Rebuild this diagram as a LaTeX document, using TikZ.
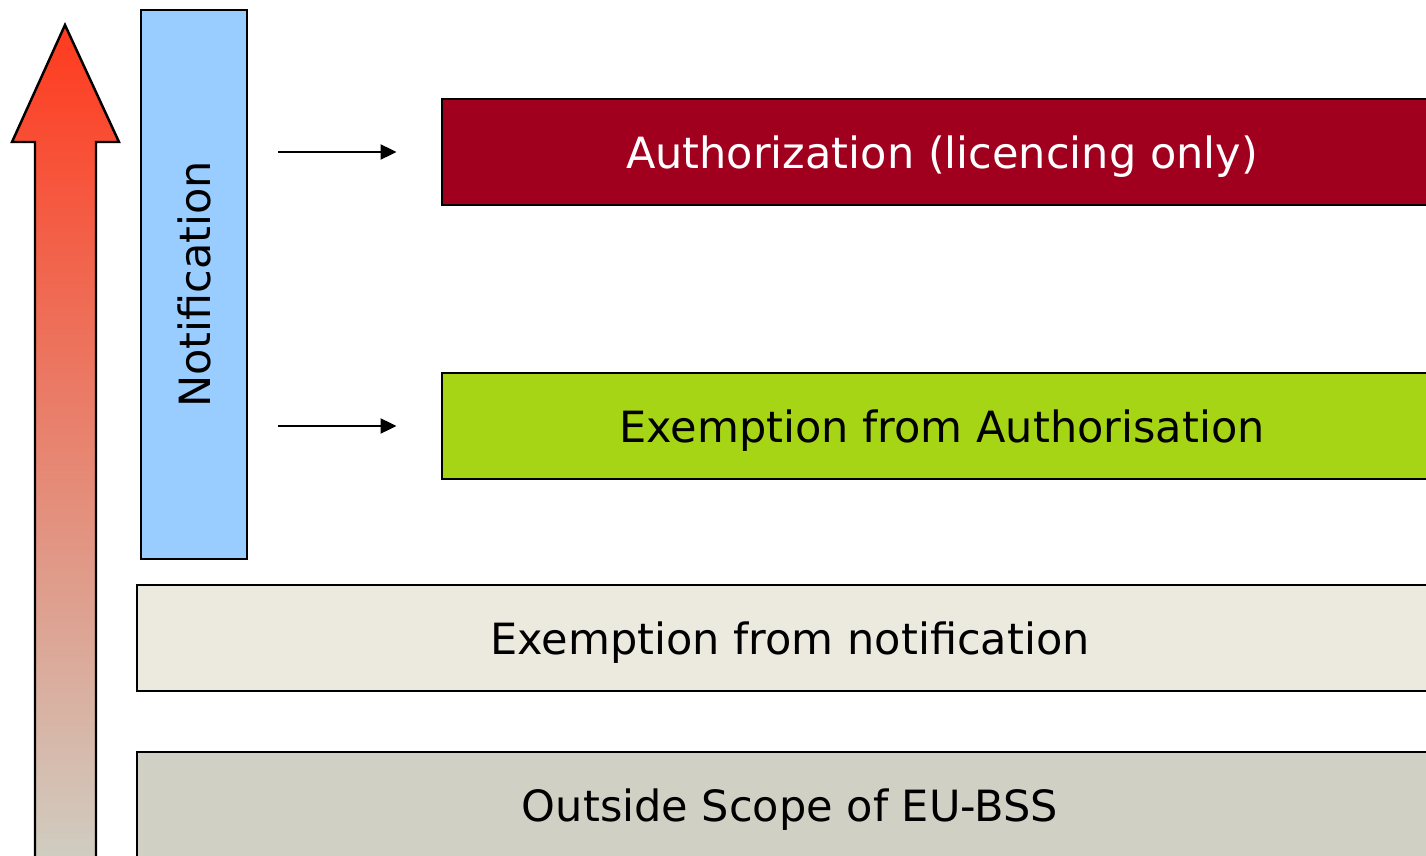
\documentclass[tikz,border=0pt]{standalone}
\usepackage{fontspec}
\setmainfont{DejaVu Sans}
\usetikzlibrary{arrows.meta}
\definecolor{authred}{HTML}{A0001E}
\definecolor{exgreen}{HTML}{A6D516}
\definecolor{notifblue}{HTML}{99CCFF}
\definecolor{exnotif}{HTML}{ECEADF}
\definecolor{outside}{HTML}{D0D0C4}
\definecolor{arrowtop}{RGB}{255,58,30}
\definecolor{arrowmid}{RGB}{232,156,141}
\definecolor{arrowbot}{RGB}{207,207,195}
\tikzset{
  level/.style={draw=black, line width=1.2pt, minimum height=2.12cm,
    inner sep=0pt, text depth=0pt, font=\fontsize{24.5}{28}\selectfont},
  upper/.style={level, minimum width=20.02cm},
  lower/.style={level, minimum width=26.12cm},
  conn/.style={line width=1.2pt, -{Triangle[length=0.32cm,width=0.3cm]}},
}
\begin{document}
\begin{tikzpicture}[x=0.02cm, y=-0.02cm]
\useasboundingbox (0,0) rectangle (1426,855);
\clip (0,0) rectangle (1426,855);

% rising scale arrow on the left
\path[draw=black, line width=1.4pt, top color=arrowtop, middle color=arrowmid, bottom color=arrowbot]
  (65,25) -- (119,142) -- (96,142) -- (96,870) -- (35,870) -- (35,142) -- (12,142) -- cycle;

% notification column
\node[draw=black, line width=1.2pt, fill=notifblue, minimum width=2.12cm, minimum height=10.98cm,
  inner sep=0pt] (notif) at (194,284.5) {};
\node[rotate=90, font=\fontsize{24.5}{28}\selectfont] (notiftext) at (notif.center) {Notification};

% regulatory levels
\node[upper, fill=authred, text=white] (auth) at (942,152) {Authorization (licencing only)};
\node[upper, fill=exgreen] (exauth) at (942,426) {Exemption from Authorisation};
\node[lower, fill=exnotif] (exnot) at (790,638) {Exemption from notification};
\node[lower, fill=outside] (scope) at (790,805) {Outside Scope of EU-BSS};

% notification leads to the two upper levels
\draw[conn] ([xshift=0.6cm]notif.east |- auth.west) -- ([xshift=-0.88cm]auth.west);
\draw[conn] ([xshift=0.6cm]notif.east |- exauth.west) -- ([xshift=-0.88cm]exauth.west);
\end{tikzpicture}
\end{document}
